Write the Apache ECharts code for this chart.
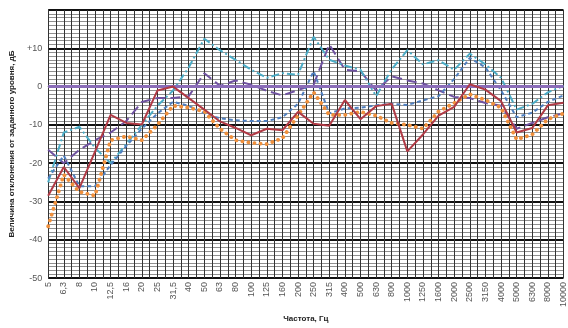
<!DOCTYPE html>
<html><head><meta charset="utf-8">
<script src="https://cdn.jsdelivr.net/npm/echarts@6/dist/echarts.min.js"></script>
<style>html,body{margin:0;padding:0;background:#fff}#c{width:568px;height:328px}</style>
</head><body><div id="c"></div>
<script>
const categories = ['5','6,3','8','10','12,5','16','20','25','31,5','40','50','63','80','100','125','160','200','250','315','400','500','630','800','1000','1250','1600','2000','2500','3150','4000','5000','6300','8000','10000'];
const yTicks = [-50,-40,-30,-20,-10,0,10,20];
const seriesRed    = [-28.5,-21,-26.5,-17,-7.4,-9.5,-9.9,-1,0,-3,-6,-9.1,-10.8,-12.7,-11,-11.4,-6.6,-9.7,-10.2,-3.5,-8.5,-5.1,-4.5,-16.9,-12.5,-7.6,-5.3,0.6,-0.8,-3.8,-12,-10.8,-4.9,-4.2];
const seriesOrange = [-36.5,-23,-27.5,-28.5,-14,-13,-14,-10,-5,-5.5,-6.5,-11,-14,-14.7,-15,-13.5,-7.5,-1.5,-7.4,-7.4,-6.6,-7.6,-9.5,-10,-11,-6.5,-4.3,-2,-3.5,-5.5,-13.8,-12.5,-8.5,-7];
const seriesBlue   = [-24,-18,-26,-26,-20.5,-15.5,-11,-7,-4,-5,-7,-8.3,-8.8,-9,-9,-8,-4.5,4,-7,-5.7,-5.5,-4.9,-4.5,-4.8,-3.6,-2.5,2,7.5,5,-1,-8,-6.8,-4,-2.3];
const seriesTeal   = [-25,-12,-10.5,-16,-20,-15,-10,-5,-1,5,12.5,9.5,7,4.4,2.3,3.5,3.1,13,7,5.5,4.4,-2.5,4.5,9.5,5.8,6.9,4.4,8.6,5.8,2.3,-6,-4.5,-1.5,0.2];
const seriesPurple = [-16.5,-20,-16.5,-14,-12,-9,-4,-3,-3,-2.5,3.5,0.2,1.6,0.5,-1.1,-2.3,-0.9,0.5,11,4.4,4,-1,2.7,1.6,0.8,-1,-2.7,-3,-4.3,-5,-11,-9.5,-8,-7];
const referenceLevel = 0;

const chart = echarts.init(document.getElementById('c'), null, {renderer:'canvas'});
const font = 'Liberation Sans, Arial, sans-serif';
chart.setOption({
  animation:false,
  backgroundColor:'#fff',
  grid:{left:45,right:2,top:10,bottom:40},
  xAxis:[{
    type:'category', data:categories, boundaryGap:false,
    axisLine:{show:true,lineStyle:{color:'#333',width:1}},
    axisTick:{show:false},
    splitLine:{show:false},
    axisLabel:{rotate:90,interval:0,fontSize:9,color:'#555',fontFamily:font,margin:4},
    name:'Частота, Гц', nameLocation:'middle', nameGap:29,
    nameTextStyle:{fontSize:8,fontWeight:'bold',color:'#222',fontFamily:font}
  },{
    type:'value', min:0, max:categories.length-1, interval:0.5, position:'top',
    axisLine:{show:false}, axisTick:{show:false}, axisLabel:{show:false},
    splitLine:{show:true,lineStyle:{color:'#333',width:1}}
  }],
  yAxis:{
    type:'value', min:yTicks[0], max:yTicks[yTicks.length-1], interval:10,
    axisLine:{show:true,lineStyle:{color:'#333'}},
    axisTick:{show:false},
    axisLabel:{fontSize:9,color:'#555',fontFamily:font,margin:6,
      formatter:v=> v===20 ? '' : (v>0?'+'+v:String(v))},
    splitLine:{show:true,lineStyle:{color:'#111',width:1.8}},
    minorTick:{show:false,splitNumber:10},
    minorSplitLine:{show:true,lineStyle:{color:'#8f8f8f',width:1}},
    name:'Величина отклонения от заданного уровня, дБ', nameLocation:'middle', nameGap:24,
    nameTextStyle:{fontSize:8,fontWeight:'bold',color:'#222',fontFamily:font}
  },
  series:[
    {type:'line',data:seriesPurple,symbol:'none',lineStyle:{color:'#6f52a0',width:2,type:[10,5]},z:3,
     markLine:{silent:true,symbol:'none',label:{show:false},lineStyle:{color:'#8a6cb8',width:3,type:'solid'},data:[{yAxis:referenceLevel}]}},
    {type:'line',data:seriesTeal,symbol:'none',lineStyle:{color:'#4bacc6',width:2,type:[8,3,2,3]},z:3},
    {type:'line',data:seriesBlue,symbol:'none',lineStyle:{color:'#4f7fbf',width:2,type:[4,3]},z:3},
    {type:'line',data:seriesOrange,symbol:'none',lineStyle:{color:'#f0903c',width:3.8,type:[0.1,6],cap:'round'},z:4},
    {type:'line',data:seriesRed,symbol:'none',lineStyle:{color:'#b03a45',width:2},z:5}
  ]
});
</script></body></html>
